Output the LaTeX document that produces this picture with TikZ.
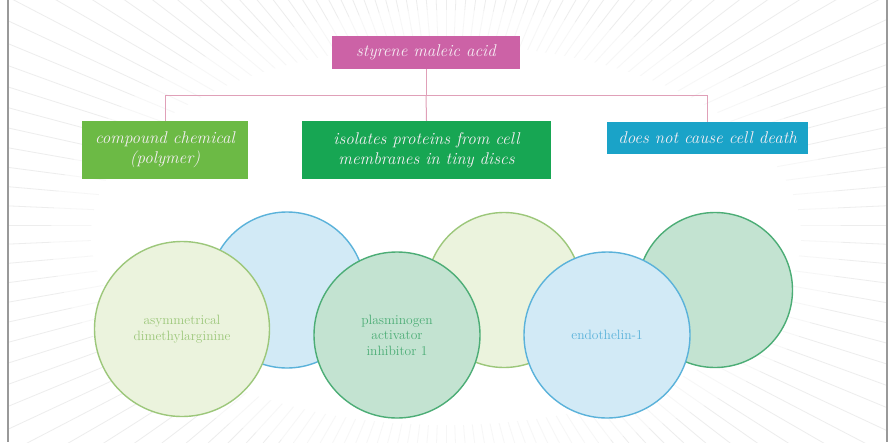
\documentclass[tikz,border=0pt]{standalone}
\usepackage{fontspec}
\usetikzlibrary{calc}
\definecolor{pinkbox}{HTML}{CC62A6}
\definecolor{greenA}{HTML}{6CBA45}
\definecolor{greenB}{HTML}{17A653}
\definecolor{blueC}{HTML}{1AA3C8}
\definecolor{linkpink}{HTML}{E0A0B8}
\definecolor{boxtext}{HTML}{F6EEF4}
\definecolor{raygray}{HTML}{EDEDED}
\definecolor{lbfill}{HTML}{D2EAF6}
\definecolor{lbdraw}{HTML}{5AB2DA}
\definecolor{lgfill}{HTML}{EBF3DD}
\definecolor{lgdraw}{HTML}{9CC77A}
\definecolor{dgfill}{HTML}{C3E3D1}
\definecolor{dgdraw}{HTML}{4CAD76}
\tikzset{
  topbox/.style={rectangle, inner sep=0pt, text=boxtext, font=\fontsize{17}{20}\selectfont\itshape, align=center},
  link/.style={draw=linkpink, line width=1pt},
  bubble/.style={circle, inner sep=0pt, line width=1.4pt, align=center, font=\fontsize{13.5}{15.5}\selectfont},
}
\begin{document}
\begin{tikzpicture}[x=1pt,y=-1pt]
\useasboundingbox (0,0) rectangle (893,442);
\fill[white] (0,0) rectangle (893,442);
% sunburst rays
\begin{scope}
\clip (8,0) rectangle (887,442);
\foreach \a in {0,2.5,...,357.5}{
  \draw[raygray, line width=0.8pt] (446,225) -- ++(\a:700);
}
\fill[white, opacity=0.55] (446,235) ellipse [x radius=395, y radius=225];
\fill[white] (446,235) ellipse [x radius=355, y radius=190];
\end{scope}
\draw[gray!80, line width=1.2pt] (8,0) -- (8,442);
\draw[gray!80, line width=1.2pt] (887,0) -- (887,442);

% top boxes
\node[topbox, fill=pinkbox, minimum width=188pt, minimum height=33pt] (sma) at (426,52.5) {styrene maleic acid};
\node[topbox, fill=greenA, minimum width=166pt, minimum height=58pt] (cc) at (165,150) {compound chemical\\(polymer)};
\node[topbox, fill=greenB, minimum width=249pt, minimum height=58pt] (ip) at (426.5,150) {isolates proteins from cell\\membranes in tiny discs};
\node[topbox, fill=blueC, minimum width=201pt, minimum height=32pt] (nd) at (707.5,138) {does not cause cell death};
\coordinate (hub) at (426,95);
\draw[link] (sma.south) -- (hub);
\draw[link] (cc.north) |- (hub);
\draw[link] (nd.north) |- (hub);
\draw[link] (hub) -- (ip.north);

% back circles
\node[bubble, fill=lbfill, draw=lbdraw, minimum size=156pt] (b1) at (287,290) {};
\node[bubble, fill=lgfill, draw=lgdraw, minimum size=155pt] (g2) at (504,290) {};
\node[bubble, fill=dgfill, draw=dgdraw, minimum size=155pt] (g3) at (715,290) {};
% front circles
\node[bubble, fill=lgfill, draw=lgdraw, text=lgdraw, minimum size=175pt] (adma) at (182,329) {asymmetrical\\dimethylarginine};
\node[bubble, fill=dgfill, draw=dgdraw, text=dgdraw, minimum size=166pt] (pai) at (397,335) {plasminogen\\activator\\inhibitor 1};
\node[bubble, fill=lbfill, draw=lbdraw, text=lbdraw, minimum size=166pt] (et) at (607,335) {endothelin-1};
\end{tikzpicture}
\end{document}
